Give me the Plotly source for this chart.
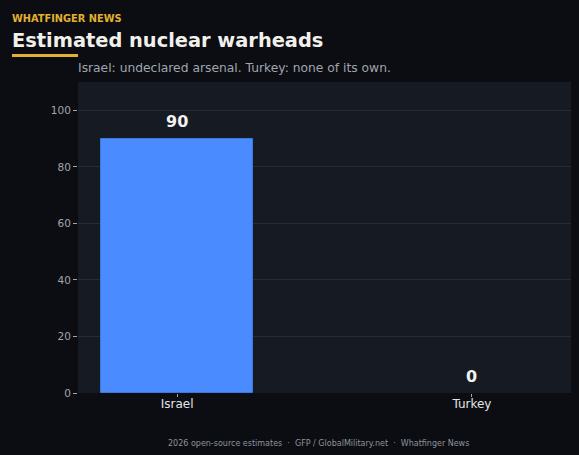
import plotly.graph_objects as go

countries = ["Israel", "Turkey"]
warheads = [90, 0]
y_ticks = [0, 20, 40, 60, 80, 100]

BG = "#0b0d12"
PLOT_BG = "#161a22"
GRID = "#262b37"
MUTED = "#a0a5ae"
GOLD = "#e3b12f"
FONT = "DejaVu Sans"

W, H = 579, 455
L, R, T, B = 78, 8, 82, 62
PW, PH = W - L - R, H - T - B


def px_x(x):
    return (x - L) / PW


def px_y(y):
    return 1 - (y - T) / PH


fig = go.Figure()
fig.add_bar(
    x=countries,
    y=warheads,
    width=0.515,
    marker=dict(
        color="#4a8cff",
        line=dict(color=["#3f78dc" if v > 0 else "rgba(0,0,0,0)" for v in warheads], width=1),
    ),
    hoverinfo="skip",
)

# value labels above the bars
for c, v in zip(countries, warheads):
    fig.add_annotation(
        x=c, y=v, text=f"<b>{v}</b>", showarrow=False,
        yanchor="middle", yshift=17,
        font=dict(family=FONT, size=16, color="#f2f2f2"),
    )

fig.update_layout(
    width=W,
    height=H,
    paper_bgcolor=BG,
    plot_bgcolor=PLOT_BG,
    margin=dict(l=L, r=R, t=T, b=B),
    showlegend=False,
    font=dict(family=FONT, color=MUTED),
    bargap=0,
)
fig.update_xaxes(
    range=[-0.336, 1.336],
    showgrid=False,
    ticks="outside",
    ticklen=3,
    tickcolor=MUTED,
    tickfont=dict(size=12, color="#e4e4e4"),
    ticklabelstandoff=-3,
    showline=False,
    zeroline=False,
)
fig.update_yaxes(
    range=[0, 110],
    tickvals=y_ticks,
    gridcolor=GRID,
    gridwidth=1,
    ticks="outside",
    ticklen=4,
    tickcolor=MUTED,
    tickfont=dict(size=10.5, color=MUTED),
    zeroline=False,
    showline=False,
)

fig.add_annotation(
    text="<b>WHATFINGER NEWS</b>", x=px_x(10), y=px_y(18), xref="paper", yref="paper",
    showarrow=False, xanchor="left", yanchor="middle",
    font=dict(size=9.8, color=GOLD, family=FONT),
)
fig.add_annotation(
    text="<b>Estimated nuclear warheads</b>", x=px_x(10), y=px_y(40), xref="paper", yref="paper",
    showarrow=False, xanchor="left", yanchor="middle",
    font=dict(size=19.4, color="#f2f0ea", family=FONT),
)
fig.add_annotation(
    text="Israel: undeclared arsenal. Turkey: none of its own.", x=px_x(76), y=px_y(68),
    xref="paper", yref="paper",
    showarrow=False, xanchor="left", yanchor="middle",
    font=dict(size=12.3, color=MUTED, family=FONT),
)
fig.add_annotation(
    text="2026 open-source estimates  \u00b7  GFP / GlobalMilitary.net  \u00b7  Whatfinger News",
    x=px_x(318), y=px_y(443), xref="paper", yref="paper",
    showarrow=False, xanchor="center", yanchor="middle",
    font=dict(size=8, color="#8e939c", family=FONT),
)

fig.add_shape(
    type="rect", xref="paper", yref="paper",
    x0=px_x(12), x1=px_x(78), y0=px_y(57), y1=px_y(54),
    fillcolor=GOLD, line=dict(width=0),
)

fig.write_html(
    "out.html",
    config={"displayModeBar": False},
    post_script="document.body.style.margin='0';document.body.style.background='#0b0d12';",
)
